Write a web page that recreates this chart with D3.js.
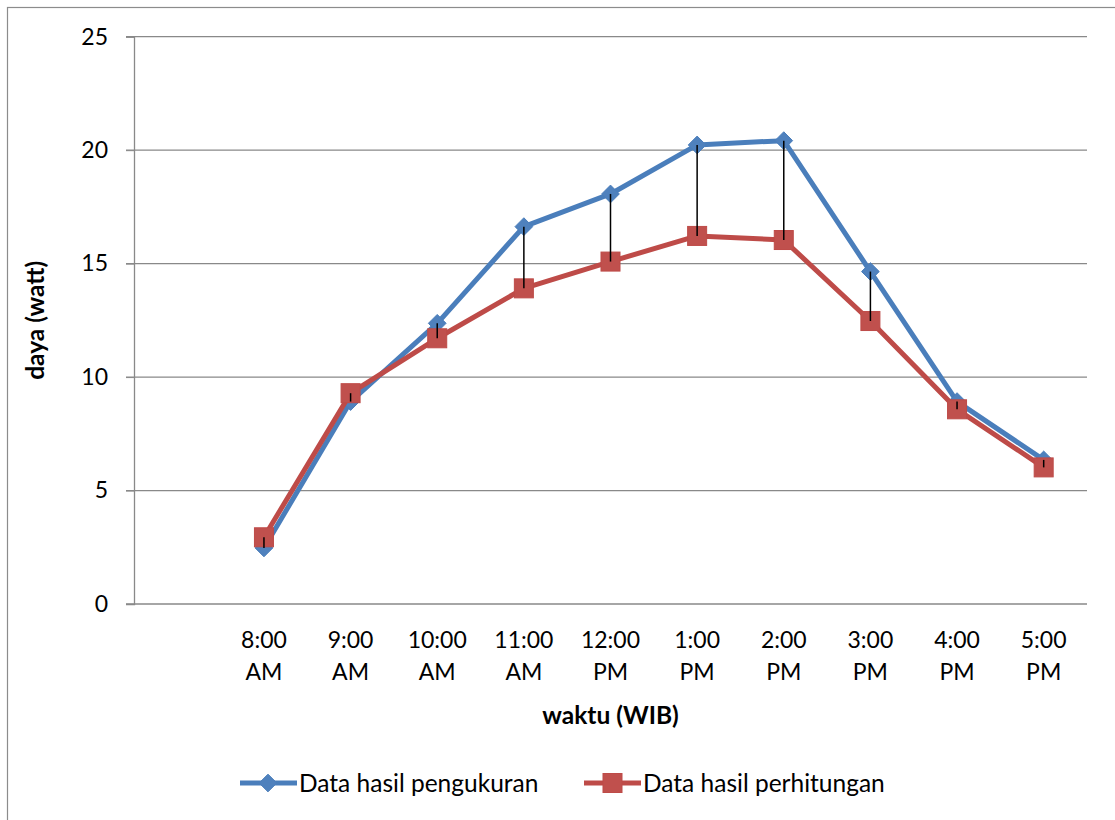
<!DOCTYPE html>
<html>
<head>
<meta charset="utf-8">
<script src="https://cdn.jsdelivr.net/npm/d3@7"></script>
<style>
  body { margin: 0; background: #fff; }
  svg { display: block; font-family: Lato, "Open Sans", sans-serif; }
</style>
</head>
<body>
<svg id="chart" width="1115" height="820"></svg>
<script>
// first category is empty in the source sheet
const categories = ["", "8:00 AM", "9:00 AM", "10:00 AM", "11:00 AM", "12:00 PM",
                    "1:00 PM", "2:00 PM", "3:00 PM", "4:00 PM", "5:00 PM"];
const pengukuran = [null, 2.47, 8.92, 12.37, 16.63, 18.07, 20.23, 20.42, 14.65, 8.92, 6.35];
const perhitungan = [null, 2.94, 9.29, 11.71, 13.91, 15.09, 16.22, 16.04, 12.47, 8.58, 6.02];
const yTicks = [0, 5, 10, 15, 20, 25];

const svg = d3.select("#chart");
const plotL = 134, plotR = 1087, plotT = 36.7, plotB = 604;

// chart frame
svg.append("rect")
    .attr("x", 7.5).attr("y", 7.5)
    .attr("width", 1130).attr("height", 840)
    .attr("fill", "none").attr("stroke", "#8c8c8c").attr("stroke-width", 1.2);

const x = d3.scaleBand().domain(categories).range([plotL, plotR]);
const y = d3.scaleLinear().domain([0, 25]).range([plotB, plotT]);
const cx = c => x(c) + x.bandwidth() / 2;

// gridlines
svg.append("g").selectAll("line")
    .data(yTicks)
    .join("line")
    .attr("x1", plotL - 8).attr("x2", plotR)
    .attr("y1", d => y(d)).attr("y2", d => y(d))
    .attr("stroke", "#898989").attr("stroke-width", 1.3);

// y axis
const yAxis = svg.append("g")
    .attr("transform", `translate(${plotL},0)`)
    .call(d3.axisLeft(y).tickValues(yTicks).tickSize(8).tickPadding(18));
yAxis.select(".domain").attr("stroke", "#898989").attr("stroke-width", 1.3);
yAxis.selectAll(".tick line").attr("stroke", "#898989");
yAxis.selectAll(".tick text").attr("font-size", 23).attr("fill", "#000")
    .attr("font-family", "Lato, sans-serif");

// x labels (two lines)
const xl = svg.append("g").selectAll("text")
    .data(categories.filter(c => c))
    .join("text")
    .attr("text-anchor", "middle")
    .attr("font-size", 23)
    .attr("fill", "#000");
xl.each(function(c) {
    const parts = c.split(" ");
    d3.select(this).selectAll("tspan").data(parts).join("tspan")
        .attr("x", cx(c))
        .attr("y", (d, i) => 648 + i * 32)
        .text(d => d);
});

// axis titles
svg.append("text")
    .attr("x", (plotL + plotR) / 2).attr("y", 724)
    .attr("text-anchor", "middle").attr("font-size", 24.5).attr("font-weight", "bold")
    .text("waktu (WIB)");
svg.append("text")
    .attr("transform", `translate(44,${(plotT + plotB) / 2}) rotate(-90)`)
    .attr("text-anchor", "middle").attr("font-size", 24.5).attr("font-weight", "bold")
    .text("daya (watt)");

const blue = "#4A7EBB", blueM = "#4F81BD", red = "#BE4B48", redM = "#C0504D";

const pts = vals => categories.map((c, i) => ({ c, v: vals[i] })).filter(d => d.v != null);
const line = d3.line().x(d => cx(d.c)).y(d => y(d.v));

// blue series
svg.append("path").datum(pts(pengukuran))
    .attr("d", line).attr("fill", "none").attr("stroke", blue)
    .attr("stroke-width", 5).attr("stroke-linejoin", "round");
svg.append("g").selectAll("path")
    .data(pts(pengukuran))
    .join("path")
    .attr("d", d3.symbol(d3.symbolDiamond2, 200))
    .attr("transform", d => `translate(${cx(d.c)},${y(d.v)})`)
    .attr("fill", blueM).attr("stroke", blue).attr("stroke-width", 1);

// red series
svg.append("path").datum(pts(perhitungan))
    .attr("d", line).attr("fill", "none").attr("stroke", red)
    .attr("stroke-width", 5).attr("stroke-linejoin", "round");
svg.append("g").selectAll("rect")
    .data(pts(perhitungan))
    .join("rect")
    .attr("x", d => cx(d.c) - 9.5).attr("y", d => y(d.v) - 9.5)
    .attr("width", 19).attr("height", 19)
    .attr("fill", redM).attr("stroke", red).attr("stroke-width", 1);

// high-low lines
svg.append("g").selectAll("line")
    .data(categories.map((c, i) => ({ c, a: pengukuran[i], b: perhitungan[i] })).filter(d => d.a != null))
    .join("line")
    .attr("x1", d => cx(d.c)).attr("x2", d => cx(d.c))
    .attr("y1", d => y(d.a)).attr("y2", d => y(d.b))
    .attr("stroke", "#000").attr("stroke-width", 1.5);

// legend
const legend = [
    { name: "Data hasil pengukuran", color: blue, fill: blueM, shape: "diamond", x0: 240 },
    { name: "Data hasil perhitungan", color: red, fill: redM, shape: "square", x0: 584 }
];
const lg = svg.append("g").selectAll("g").data(legend).join("g")
    .attr("transform", d => `translate(${d.x0},783)`);
lg.append("line").attr("x1", 0).attr("x2", 57)
    .attr("stroke", d => d.color).attr("stroke-width", 5);
lg.each(function(d) {
    const g = d3.select(this);
    if (d.shape === "diamond") {
        g.append("path").attr("d", d3.symbol(d3.symbolDiamond2, 200))
            .attr("transform", "translate(28,0)")
            .attr("fill", d.fill).attr("stroke", d.color);
    } else {
        g.append("rect").attr("x", 19).attr("y", -9.5).attr("width", 19).attr("height", 19)
            .attr("fill", d.fill).attr("stroke", d.color);
    }
});
lg.append("text").attr("x", 59).attr("y", 9)
    .attr("font-size", 24.5).attr("fill", "#000")
    .text(d => d.name);
</script>
</body>
</html>
